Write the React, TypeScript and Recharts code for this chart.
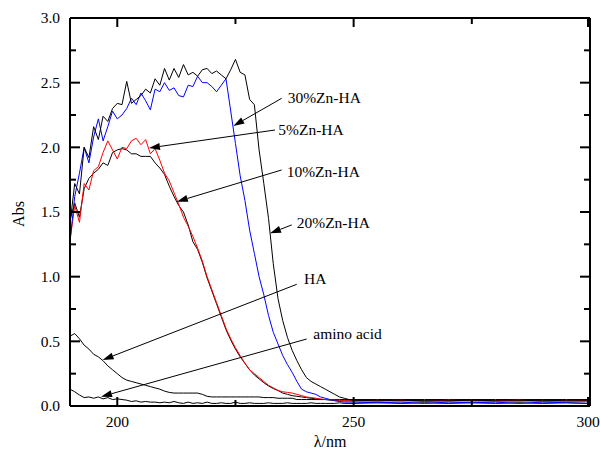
import { LineChart, Line, XAxis, YAxis, ReferenceLine, ReferenceDot } from "recharts";

// wavelength grid (nm)
const wavelengths = [
  190, 191, 192, 193, 194, 195, 196, 197, 198, 199, 200, 201, 202, 203, 204, 205, 206, 207, 208, 209,
  210, 211, 212, 213, 214, 215, 216, 217, 218, 219, 220, 221, 222, 223, 224, 225, 226, 227, 228, 229,
  230, 231, 232, 233, 234, 235, 236, 237, 238, 239, 240, 241, 242, 243, 244, 245, 246, 247, 248, 249,
  250, 255, 260, 265, 270, 275, 280, 285, 290, 295, 300,
];

const zn30 = [
  1.27, 1.62, 1.8, 2.0, 1.88, 2.08, 2.22, 2.05, 2.16, 2.28, 2.22, 2.25, 2.3, 2.38, 2.33, 2.42, 2.36, 2.29, 2.45, 2.43,
  2.5, 2.44, 2.46, 2.4, 2.39, 2.48, 2.47, 2.55, 2.5, 2.5, 2.47, 2.43, 2.48, 2.53, 2.28, 2.03, 1.78, 1.59, 1.36, 1.18,
  1.0, 0.86, 0.7, 0.57, 0.48, 0.39, 0.32, 0.26, 0.19, 0.13, 0.11, 0.1, 0.09, 0.07, 0.06, 0.05, 0.04, 0.035, 0.03, 0.03,
  0.03, 0.025, 0.03, 0.02, 0.03, 0.025, 0.03, 0.02, 0.03, 0.025, 0.02,
];

const zn20 = [
  1.41, 1.72, 1.64, 2.0, 1.92, 2.16, 2.06, 2.24, 2.2, 2.3, 2.34, 2.33, 2.51, 2.34, 2.37, 2.4, 2.45, 2.42, 2.53, 2.48,
  2.61, 2.52, 2.61, 2.54, 2.64, 2.56, 2.58, 2.55, 2.6, 2.61, 2.57, 2.59, 2.56, 2.53, 2.6, 2.68, 2.58, 2.56, 2.37, 2.33,
  1.98, 1.72, 1.45, 1.1, 0.83, 0.66, 0.53, 0.43, 0.35, 0.28, 0.22, 0.19, 0.17, 0.15, 0.13, 0.11, 0.09, 0.07, 0.06, 0.05,
  0.045, 0.04, 0.045, 0.04, 0.04, 0.045, 0.04, 0.04, 0.045, 0.04, 0.04,
];

const zn5 = [
  1.28, 1.55, 1.42, 1.72, 1.67, 1.82, 1.85, 1.96, 2.05, 1.98, 1.91, 2.0, 1.99, 2.05, 2.07, 2.02, 2.06, 1.95, 1.99, 1.9,
  1.8, 1.74, 1.65, 1.56, 1.46, 1.39, 1.31, 1.22, 1.12, 1.0, 0.9, 0.8, 0.7, 0.6, 0.52, 0.45, 0.39, 0.33, 0.28, 0.25,
  0.22, 0.19, 0.16, 0.14, 0.12, 0.11, 0.105, 0.1, 0.09, 0.08, 0.07, 0.065, 0.06, 0.055, 0.05, 0.05, 0.045, 0.045, 0.04, 0.04,
  0.04, 0.04, 0.045, 0.035, 0.045, 0.04, 0.04, 0.045, 0.035, 0.04, 0.04,
];

const zn10 = [
  1.44, 1.57, 1.46, 1.68, 1.76, 1.8, 1.83, 1.88, 1.86, 1.96, 1.98, 1.99, 1.98, 1.95, 1.95, 1.93, 1.93, 1.93, 1.88, 1.84,
  1.79, 1.7, 1.62, 1.55, 1.5, 1.4, 1.27, 1.21, 1.11, 0.99, 0.89, 0.79, 0.69, 0.59, 0.51, 0.44, 0.38, 0.33, 0.28, 0.24,
  0.21, 0.18, 0.155, 0.135, 0.12, 0.1, 0.09, 0.08, 0.075, 0.07, 0.065, 0.06, 0.055, 0.05, 0.05, 0.045, 0.045, 0.04, 0.04, 0.04,
  0.04, 0.04, 0.04, 0.04, 0.04, 0.04, 0.04, 0.04, 0.04, 0.04, 0.04,
];

const ha = [
  0.54, 0.56, 0.52, 0.47, 0.44, 0.4, 0.38, 0.35, 0.31, 0.28, 0.25, 0.22, 0.2, 0.19, 0.18, 0.17, 0.16, 0.15, 0.14, 0.13,
  0.115, 0.105, 0.1, 0.1, 0.1, 0.1, 0.1, 0.1, 0.09, 0.075, 0.07, 0.07, 0.07, 0.07, 0.07, 0.07, 0.07, 0.07, 0.07, 0.07,
  0.07, 0.065, 0.065, 0.065, 0.06, 0.06, 0.06, 0.06, 0.05, 0.05, 0.05, 0.05, 0.05, 0.05, 0.05, 0.05, 0.05, 0.05, 0.05, 0.05,
  0.05, 0.05, 0.05, 0.05, 0.05, 0.05, 0.05, 0.05, 0.05, 0.05, 0.05,
];

const aminoAcid = [
  0.13, 0.11, 0.085, 0.065, 0.07, 0.06, 0.07, 0.055, 0.065, 0.05, 0.055, 0.05, 0.045, 0.035, 0.04, 0.03, 0.035, 0.03, 0.03, 0.025,
  0.03, 0.025, 0.035, 0.025, 0.02, 0.03, 0.02, 0.025, 0.02, 0.03, 0.02, 0.02, 0.025, 0.02, 0.02, 0.03, 0.02, 0.02, 0.025, 0.02,
  0.02, 0.02, 0.025, 0.02, 0.02, 0.02, 0.025, 0.02, 0.02, 0.02, 0.02, 0.025, 0.02, 0.02, 0.02, 0.02, 0.02, 0.025, 0.02, 0.02,
  0.02, 0.025, 0.02, 0.025, 0.02, 0.025, 0.02, 0.025, 0.02, 0.025, 0.02,
];

const xTicks = [200, 225, 250, 275, 300];
const xLabelled = [200, 250, 300];
const yTicks = [0, 0.25, 0.5, 0.75, 1, 1.25, 1.5, 1.75, 2, 2.25, 2.5, 2.75, 3];

// arrow annotations: label, label anchor, line start, arrow tip (data coords)
const annotations = [
  { text: "30%Zn-HA", at: [236.05, 2.387], from: [234.78, 2.379], to: [224.55, 2.165] },
  { text: "5%Zn-HA", at: [234.06, 2.139], from: [233.37, 2.134], to: [206.7, 1.995] },
  { text: "10%Zn-HA", at: [235.84, 1.812], from: [234.78, 1.825], to: [212.6, 1.58] },
  { text: "20%Zn-HA", at: [237.96, 1.417], from: [236.9, 1.4], to: [232.31, 1.335] },
  { text: "HA", at: [239.5, 0.982], from: [237.96, 0.941], to: [196.9, 0.356] },
  { text: "amino acid", at: [241.47, 0.557], from: [240.07, 0.518], to: [196.56, 0.072] },
];

const chartData = wavelengths.map((w, i) => ({
  w,
  zn30: zn30[i],
  zn20: zn20[i],
  zn5: zn5[i],
  zn10: zn10[i],
  ha: ha[i],
  amino: aminoAcid[i],
}));

const FONT = "'Liberation Serif', 'Times New Roman', serif";

const isMajorY = (v: number) => Math.abs(v * 2 - Math.round(v * 2)) < 1e-6;

const BottomTick = ({ x, y, payload }: any) => {
  const major = xLabelled.includes(payload.value);
  return (
    <g>
      <line x1={x} x2={x} y1={y} y2={y - (major ? 9 : 6)} stroke="#000" strokeWidth={2} />
      {major && (
        <text x={x} y={y + 21} textAnchor="middle" fontFamily={FONT} fontSize={15.5} fill="#000">
          {payload.value}
        </text>
      )}
    </g>
  );
};

const TopTick = ({ x, y, payload }: any) => {
  const major = xLabelled.includes(payload.value);
  return <line x1={x} x2={x} y1={y} y2={y + (major ? 9 : 6)} stroke="#000" strokeWidth={2} />;
};

const LeftTick = ({ x, y, payload }: any) => {
  const major = isMajorY(payload.value);
  return (
    <g>
      <line x1={x} x2={x + (major ? 10 : 6)} y1={y} y2={y} stroke="#000" strokeWidth={2} />
      {major && (
        <text x={x - 10} y={y} dy="0.34em" textAnchor="end" fontFamily={FONT} fontSize={15.5} fill="#000">
          {payload.value.toFixed(1)}
        </text>
      )}
    </g>
  );
};

const RightTick = ({ x, y, payload }: any) => {
  const major = isMajorY(payload.value);
  return <line x1={x} x2={x - (major ? 10 : 6)} y1={y} y2={y} stroke="#000" strokeWidth={2} />;
};

const Arrow = ({ x1, y1, x2, y2 }: any) => {
  const dx = x2 - x1;
  const dy = y2 - y1;
  const len = Math.sqrt(dx * dx + dy * dy);
  const ux = dx / len;
  const uy = dy / len;
  const head = 11;
  const half = 3.5;
  const bx = x2 - ux * head;
  const by = y2 - uy * head;
  const pts = `${x2},${y2} ${bx - uy * half},${by + ux * half} ${bx + uy * half},${by - ux * half}`;
  return (
    <g>
      <line x1={x1} y1={y1} x2={bx} y2={by} stroke="#000" strokeWidth={1} />
      <polygon points={pts} fill="#000" />
    </g>
  );
};

const AnnotationText = (text: string) => (props: any) => (
  <text
    x={props.cx}
    y={props.cy}
    dy="0.35em"
    textAnchor="start"
    fontFamily={FONT}
    fontSize={15.5}
    fill="#000"
  >
    {text}
  </text>
);

export default function App() {
  return (
    <div style={{ position: "absolute", left: 0, top: 0, width: 600, height: 452, background: "#fff" }}>
      <LineChart
        width={600}
        height={452}
        data={chartData}
        margin={{ top: 17, right: 9, bottom: 0, left: 0 }}
      >
        <XAxis
          dataKey="w"
          type="number"
          domain={[190, 300]}
          ticks={xTicks}
          height={46}
          tickSize={0}
          tickMargin={0}
          tickLine={false}
          tick={<BottomTick />}
          axisLine={{ stroke: "#000", strokeWidth: 2 }}
          label={{
            content: () => (
              <text x={330} y={447} textAnchor="middle" fontFamily={FONT} fontSize={16} fill="#000">
                λ/nm
              </text>
            ),
          }}
        />
        <XAxis
          xAxisId="top"
          orientation="top"
          dataKey="w"
          type="number"
          domain={[190, 300]}
          ticks={xTicks}
          height={1}
          tickSize={0}
          tickMargin={0}
          tickLine={false}
          tick={<TopTick />}
          axisLine={{ stroke: "#000", strokeWidth: 2 }}
        />
        <YAxis
          type="number"
          domain={[0, 3]}
          ticks={yTicks}
          width={70}
          tickSize={0}
          tickMargin={0}
          tickLine={false}
          tick={<LeftTick />}
          axisLine={{ stroke: "#000", strokeWidth: 2 }}
          label={{
            content: () => (
              <text
                x={18}
                y={214}
                transform="rotate(-90 18 214)"
                textAnchor="middle"
                dominantBaseline="central"
                fontFamily={FONT}
                fontSize={16}
                fill="#000"
              >
                Abs
              </text>
            ),
          }}
        />
        <YAxis
          yAxisId="right"
          orientation="right"
          type="number"
          domain={[0, 3]}
          ticks={yTicks}
          width={1}
          tickSize={0}
          tickMargin={0}
          tickLine={false}
          tick={<RightTick />}
          axisLine={{ stroke: "#000", strokeWidth: 2 }}
        />

        {/* invisible series tied to the mirrored frame axes */}
        <Line
          xAxisId="top"
          yAxisId="right"
          dataKey="zn20"
          stroke="none"
          dot={false}
          activeDot={false}
          legendType="none"
          isAnimationActive={false}
        />

        <Line dataKey="amino" stroke="#000" strokeWidth={1} dot={false} isAnimationActive={false} />
        <Line dataKey="ha" stroke="#000" strokeWidth={1} dot={false} isAnimationActive={false} />
        <Line dataKey="zn10" stroke="#000" strokeWidth={1} dot={false} isAnimationActive={false} />
        <Line dataKey="zn5" stroke="#ff0000" strokeWidth={1} dot={false} isAnimationActive={false} />
        <Line dataKey="zn30" stroke="#0000ff" strokeWidth={1} dot={false} isAnimationActive={false} />
        <Line dataKey="zn20" stroke="#000" strokeWidth={1} dot={false} isAnimationActive={false} />

        {annotations.map((a) => (
          <ReferenceLine
            key={a.text + "-arrow"}
            segment={[
              { x: a.from[0], y: a.from[1] },
              { x: a.to[0], y: a.to[1] },
            ]}
            shape={(p: any) => <Arrow {...p} />}
          />
        ))}
        {annotations.map((a) => (
          <ReferenceDot
            key={a.text + "-label"}
            x={a.at[0]}
            y={a.at[1]}
            r={0}
            shape={AnnotationText(a.text)}
          />
        ))}
      </LineChart>
    </div>
  );
}
